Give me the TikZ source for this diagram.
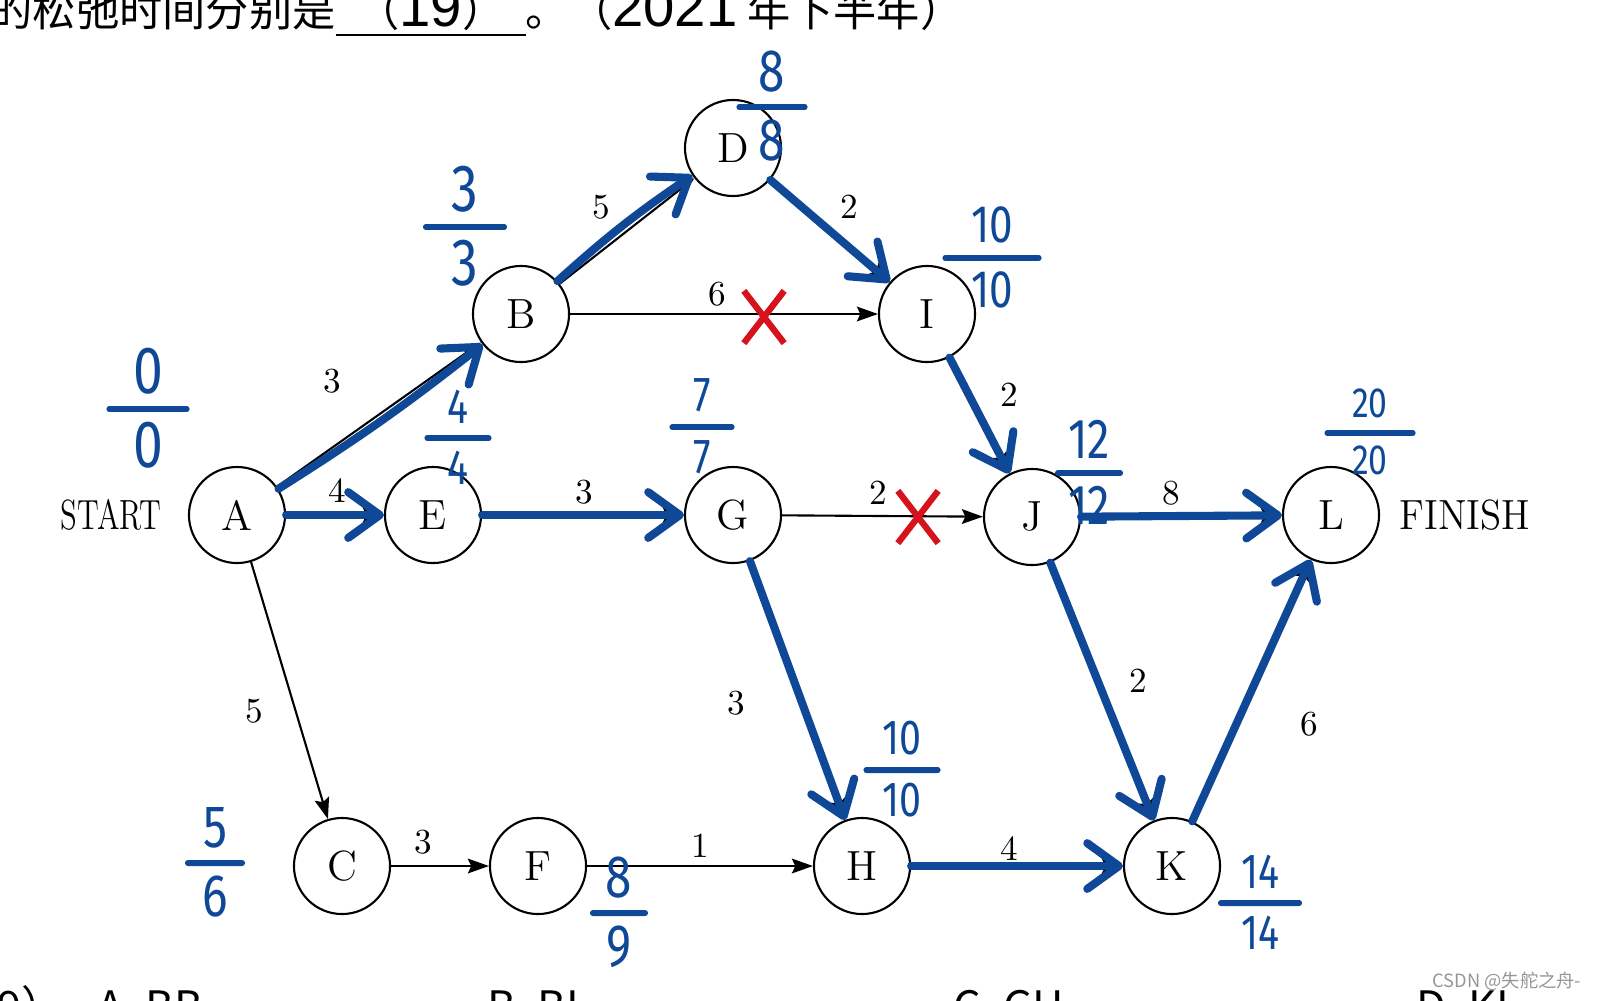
\documentclass[tikz,border=0pt]{standalone}
\usepackage{fontspec}
\usetikzlibrary{arrows.meta,positioning,shapes.misc}
\newfontfamily\cjk{Noto Sans CJK SC}
\newfontfamily\numfont{Liberation Sans}
\newfontfamily\handfont{Fira Sans}
\definecolor{handBlue}{RGB}{14, 72, 150}
\definecolor{cutRed}{RGB}{214, 18, 28}
\definecolor{markGray}{RGB}{150, 150, 150}

% earliest / latest time written by hand next to an event
\newcommand{\slack}[6][15pt]{%
  \node[bar, minimum width=#4] (#2) at (#3) {};
  \node[hand=#1, above=3pt of #2] (#2-es) {\scalebox{.8}[1]{#5}};
  \node[hand=#1, below=2.5pt of #2] (#2-ls) {\scalebox{.8}[1]{#6}};}
\newcommand{\qnum}[1]{{\numfont\fontsize{16pt}{18pt}\selectfont #1}}

\begin{document}
\begin{tikzpicture}[x=0.01cm, y=-0.01cm,
    event/.style={circle, draw, line width=0.6pt, minimum size=0.96cm, inner sep=0pt, font=\fontsize{12pt}{14pt}\selectfont},
    act/.style={line width=0.6pt, -{Stealth[length=6pt, width=4.2pt, inset=1pt]}},
    crit/.style={draw=handBlue, line width=2.3pt, line cap=round, line join=round, -{Straight Barb[length=9pt, width=13pt, round]}},
    wt/.style={inner sep=0pt, font=\fontsize{10pt}{12pt}\selectfont},
    bar/.style={fill=handBlue, minimum height=1.7pt, inner sep=0pt, rounded corners=0.8pt},
    hand/.style={text=handBlue, inner sep=0pt, font=\handfont\fontsize{#1}{#1}\selectfont},
    cut/.style={cross out, draw=cutRed, line width=1.8pt, minimum width=0.34cm, minimum height=0.46cm, inner sep=0pt},
    txt/.style={inner sep=0pt, font=\cjk\fontsize{12.3pt}{14pt}\selectfont}]
  \useasboundingbox (0,0) rectangle (1598,1000);
  \clip (0,0) rectangle (1598,1000);

  % text of the question, cut by the page
  \node[txt, anchor=base west] (stem) at (-11,26) {的松弛时间分别是\underline{\makebox[1.9cm]{（\qnum{19}）}}。（\qnum{2021} 年下半年）};
  \node[txt, anchor=base east] (qno) at (65,1022) {（19）};
  \node[txt, anchor=base west] (optA) at (97,1022) {A. BB};
  \node[txt, anchor=base west] (optB) at (487,1022) {B. BI};
  \node[txt, anchor=base west] (optC) at (953,1022) {C. GH};
  \node[txt, anchor=base west] (optD) at (1416,1022) {D. KL};

  % events
  \node[event] (A) at (237,515) {A};
  \node[event] (B) at (521,314) {B};
  \node[event] (D) at (733,148) {D};
  \node[event] (I) at (927,314) {I};
  \node[event] (E) at (433,515) {E};
  \node[event] (G) at (733,515) {G};
  \node[event] (J) at (1032,517) {J};
  \node[event] (L) at (1331,515) {L};
  \node[event] (C) at (342,866) {C};
  \node[event] (F) at (538,866) {F};
  \node[event] (H) at (862,866) {H};
  \node[event] (K) at (1172,866) {K};
  \node[inner sep=0pt, font=\fontsize{12pt}{14pt}\selectfont] (start) at (111,515) {\scalebox{.73}[1]{START}};
  \node[inner sep=0pt, font=\fontsize{12pt}{14pt}\selectfont] (finish) at (1465,515) {\scalebox{.92}[1]{FINISH}};

  % activities
  \foreach \u/\v in {A/B, A/E, A/C, B/D, B/I, D/I, E/G, G/J, G/H, I/J, J/L, J/K, C/F, F/H, H/K, K/L}
    \draw[act] (\u) -- (\v);

  \node[wt] (wAB) at (332,381) {3};
  \node[wt] (wAE) at (337,491) {4};
  \node[wt] (wAC) at (254,711) {5};
  \node[wt] (wBD) at (601,207) {5};
  \node[wt] (wBI) at (717,294) {6};
  \node[wt] (wDI) at (849,207) {2};
  \node[wt] (wIJ) at (1009,395) {2};
  \node[wt] (wEG) at (584,492) {3};
  \node[wt] (wGJ) at (878,493) {2};
  \node[wt] (wJL) at (1171,493) {8};
  \node[wt] (wGH) at (736,703) {3};
  \node[wt] (wJK) at (1138,681) {2};
  \node[wt] (wKL) at (1309,724) {6};
  \node[wt] (wCF) at (423,842) {3};
  \node[wt] (wFH) at (700,846) {1};
  \node[wt] (wHK) at (1009,849) {4};

  % critical path marked by hand
  \draw[crit] (A) to[bend right=3] (B);
  \draw[crit] (B) to[bend left=4] (D);
  \foreach \u/\v in {D/I, I/J, A/E, E/G, G/H, H/K, J/L, J/K, K/L}
    \draw[crit] (\u) -- (\v);

  \node[cut] (xBI) at (764,317) {};
  \node[cut] (xGJ) at (918,517) {};

  \slack[19pt]{sA}{148,409}{0.83cm}{0}{0}
  \slack[19pt]{sB}{465,227}{0.84cm}{3}{3}
  \slack[17pt]{sD}{772,107}{0.71cm}{8}{8}
  \slack[15pt]{sI}{992,258}{0.99cm}{10}{10}
  \slack[14pt]{sE}{458,438}{0.67cm}{4}{4}
  \slack[14pt]{sG}{702,427}{0.65cm}{7}{7}
  \slack[16pt]{sJ}{1089,473}{0.68cm}{12}{12}
  \slack[12pt]{sL}{1370,433}{0.91cm}{20}{20}
  \slack[14pt]{sH}{902,770}{0.77cm}{10}{10}
  \slack[14pt]{sK}{1260,903}{0.84cm}{14}{14}
  \slack[17pt]{sC}{215,863}{0.60cm}{5}{6}
  \slack[17pt]{sF}{619,913}{0.58cm}{8}{9}

  \node[inner sep=0pt, anchor=east, text=markGray, font=\cjk\fontsize{5.2pt}{6pt}\selectfont] (mark) at (1582,981) {CSDN @失舵之舟-};
\end{tikzpicture}
\end{document}
